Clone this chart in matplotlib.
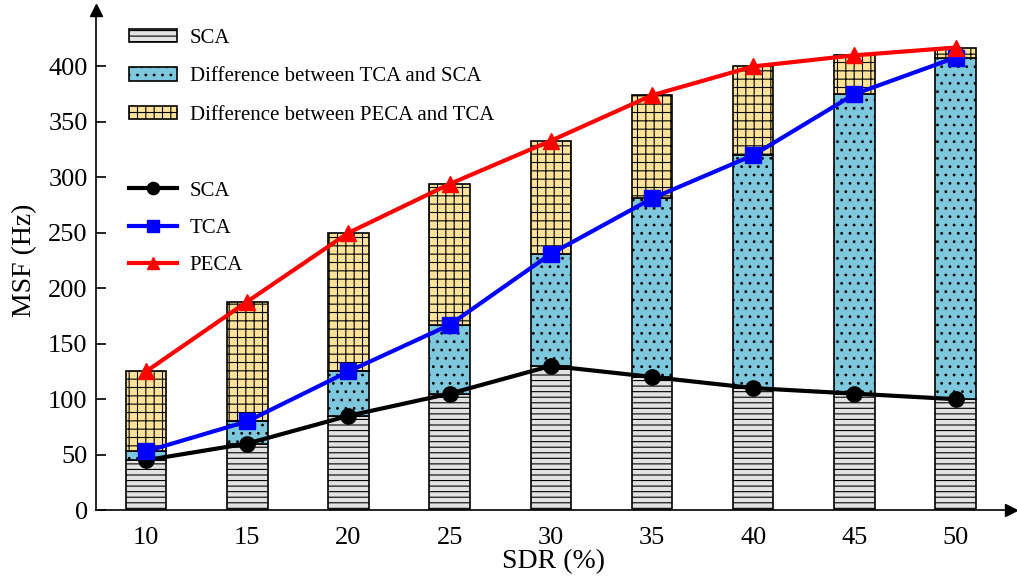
import matplotlib.pyplot as plt
import numpy as np

plt.rcParams['font.family'] = ['Liberation Serif', 'DejaVu Serif']
plt.rcParams['hatch.linewidth'] = 0.8

sdr = [10, 15, 20, 25, 30, 35, 40, 45, 50]
sca = [45, 60, 85, 105, 130, 120, 110, 105, 100]
tca = [53, 80, 125, 167, 231, 281, 320, 375, 408]
peca = [125, 188, 250, 294, 333, 374, 400, 410, 417]

x = np.arange(len(sdr))
sca_a = np.array(sca)
tca_a = np.array(tca)
peca_a = np.array(peca)

fig = plt.figure(figsize=(10.17, 5.79), dpi=100)
ax = fig.add_axes([0.0944, 0.119, 0.9, 0.864])

w = 0.4
b1 = ax.bar(x, sca_a, w, color='#e2e2e2', edgecolor='black', hatch='---', linewidth=1.2)
b2 = ax.bar(x, tca_a - sca_a, w, bottom=sca_a, color='#7ec8dd', edgecolor='black', hatch='..', linewidth=1.2)
b3 = ax.bar(x, peca_a - tca_a, w, bottom=tca_a, color='#fde39a', edgecolor='black', hatch='++', linewidth=1.2)

l1, = ax.plot(x, sca, color='black', lw=3, marker='o', ms=11)
l2, = ax.plot(x, tca, color='#0000ff', lw=3, marker='s', ms=11)
l3, = ax.plot(x, peca, color='#ff0000', lw=3, marker='^', ms=11)

ax.set_xlim(-0.495, 8.55)
ax.set_ylim(0, 451)
ax.set_xticks(x)
ax.set_xticklabels([str(s) for s in sdr])
ax.set_yticks(range(0, 401, 50))
ax.tick_params(axis='y', direction='in', length=7, width=1.2, labelsize=19, pad=6)
ax.tick_params(axis='x', length=0, labelsize=19, pad=12)
ax.spines['top'].set_visible(False)
ax.spines['right'].set_visible(False)
ax.spines['left'].set_linewidth(1.2)
ax.spines['bottom'].set_linewidth(1.2)
ax.plot(1, 0, '>k', ms=9, transform=ax.transAxes, clip_on=False)
ax.plot(0, 1, '^k', ms=9, transform=ax.transAxes, clip_on=False)

ax.set_xlabel('SDR (%)', fontsize=20, labelpad=0)
ax.set_ylabel('MSF (Hz)', fontsize=20, labelpad=8)

leg1 = ax.legend([b1, b2, b3],
                 ['SCA', 'Difference between TCA and SCA', 'Difference between PECA and TCA'],
                 loc='upper left', bbox_to_anchor=(0.016, 1.0), frameon=False, fontsize=15,
                 handlelength=2.3, handleheight=0.6, labelspacing=0.95, handletextpad=0.6)
ax.add_artist(leg1)
ax.legend([l1, l2, l3], ['SCA', 'TCA', 'PECA'],
          loc='upper left', bbox_to_anchor=(0.016, 0.695), frameon=False, fontsize=15,
          handlelength=2.3, labelspacing=0.85, handletextpad=0.6, markerscale=0.8)

fig.savefig('out.png', dpi=100)
